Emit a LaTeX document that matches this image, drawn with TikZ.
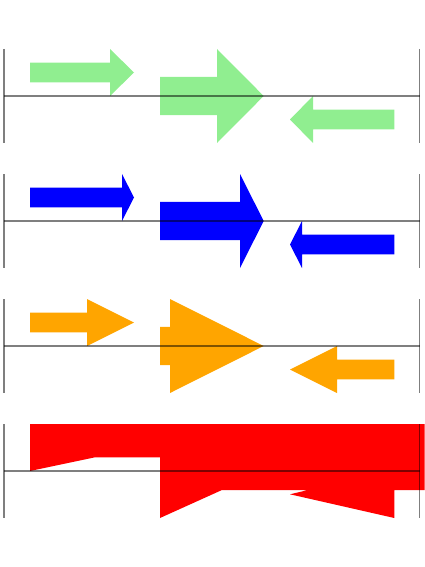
\documentclass[tikz,border=0pt]{standalone}
\usepackage{tikz}

\definecolor{genegreen}{HTML}{90EE90}
\definecolor{geneorange}{HTML}{FFA500}

% gene arrow: start, head base, tip, centre y, half head width, half body width
\newcommand{\genearrow}[7]{%
  \fill[#1] (#2,#5-#7) -- (#3,#5-#7) -- (#3,#5-#6) -- (#4,#5)
    -- (#3,#5+#6) -- (#3,#5+#7) -- (#2,#5+#7) -- cycle;}

\begin{document}
\begin{tikzpicture}[x=1pt,y=-1pt]
\tikzstyle{axis}=[black, opacity=0.5, line width=1.3pt]
\useasboundingbox (0,0) rectangle (425,567);

% track 1
\genearrow{genegreen}{30}{110}{134}{72.5}{23.5}{9.8}
\genearrow{genegreen}{160}{217}{263.7}{96}{47}{19.2}
\genearrow{genegreen}{394.3}{313}{290}{119.5}{23.5}{9.8}

% track 2
\genearrow{blue}{30}{122}{134}{197.5}{23.5}{9.8}
\genearrow{blue}{160}{240}{263.7}{221}{47}{19.2}
\genearrow{blue}{394.3}{302}{290}{244.5}{23.5}{9.8}

% track 3
\genearrow{geneorange}{30}{87}{134}{322.5}{23.5}{9.8}
\genearrow{geneorange}{160}{170}{263.7}{346}{47}{19.2}
\genearrow{geneorange}{394.3}{337}{290}{369.5}{23.5}{9.8}

% track 4
\fill[red] (30,424) -- (424.5,424) -- (424.5,490) -- (394.3,490) -- (394.3,518)
  -- (290,494.3) -- (308,490) -- (222,490) -- (160,518) -- (160,457.3)
  -- (95,457.3) -- (30,471) -- cycle;

% baselines
\foreach \y in {96,221,346,471} {
  \draw[axis] (4,\y) -- (419.5,\y);
  \draw[axis] (4,\y-47) -- (4,\y+47);
  \draw[axis] (419.5,\y-47) -- (419.5,\y+47);
}
\end{tikzpicture}
\end{document}
